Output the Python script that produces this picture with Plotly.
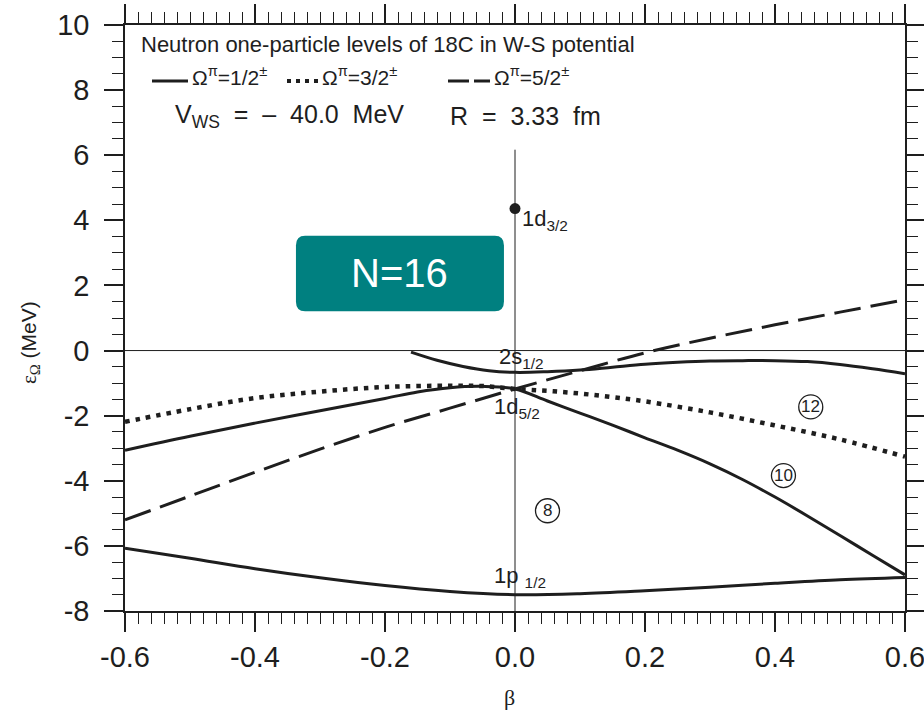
import plotly.graph_objects as go

# ---------------- data ----------------
beta_1p = [-0.6, -0.5, -0.4, -0.3, -0.2, -0.1, 0.0, 0.1, 0.2, 0.3, 0.4, 0.5, 0.6]
e_1p = [-6.07, -6.38, -6.70, -6.98, -7.22, -7.40, -7.50, -7.47, -7.38, -7.27, -7.15, -7.04, -6.97]

beta_d52_half = [-0.6, -0.5, -0.4, -0.3, -0.2, -0.15, -0.1, -0.05, 0.0,
                 0.05, 0.1, 0.15, 0.2, 0.25, 0.3, 0.35, 0.4, 0.45, 0.5, 0.55, 0.6]
e_d52_half = [-3.06, -2.63, -2.23, -1.85, -1.47, -1.27, -1.14, -1.10, -1.18,
              -1.55, -1.92, -2.29, -2.68, -3.06, -3.48, -3.96, -4.50, -5.08, -5.68, -6.29, -6.89]

beta_2s = [-0.16, -0.12, -0.08, -0.04, 0.0, 0.05, 0.1, 0.15, 0.2, 0.25,
           0.3, 0.35, 0.4, 0.45, 0.5, 0.55, 0.6]
e_2s = [-0.05, -0.30, -0.49, -0.62, -0.67, -0.65, -0.60, -0.51, -0.42, -0.36,
        -0.32, -0.31, -0.31, -0.34, -0.43, -0.56, -0.71]

beta_32 = [-0.6, -0.5, -0.4, -0.3, -0.2, -0.1, -0.05, 0.0, 0.05, 0.1, 0.15,
           0.2, 0.3, 0.4, 0.5, 0.6]
e_32 = [-2.19, -1.80, -1.46, -1.26, -1.12, -1.08, -1.09, -1.18, -1.24, -1.32,
        -1.43, -1.56, -1.90, -2.30, -2.73, -3.26]

beta_52 = [-0.6, -0.5, -0.4, -0.3, -0.2, -0.1, 0.0, 0.1, 0.2, 0.3, 0.4, 0.5, 0.6]
e_52 = [-5.20, -4.47, -3.74, -3.03, -2.36, -1.77, -1.18, -0.62, -0.07, 0.38, 0.79, 1.18, 1.56]

beta_d32 = [0.0]
e_d32 = [4.36]

x_tick_vals = [-0.6, -0.4, -0.2, 0.0, 0.2, 0.4, 0.6]
x_tick_text = ["-0.6", "-0.4", "-0.2", "0.0", "0.2", "0.4", "0.6"]
y_tick_vals = [-8, -6, -4, -2, 0, 2, 4, 6, 8, 10]
y_tick_text = ["-8", "-6", "-4", "-2", "0", "2", "4", "6", "8", "10"]

# level labels: (beta, energy, text)
level_labels = [
    (0.007, 4.0, "1d<sub>3/2</sub>"),
    (-0.027, -0.22, "2s<sub>1/2</sub>"),
    (-0.035, -1.75, "1d<sub>5/2</sub>"),
    (-0.035, -6.95, "1p <sub>1/2</sub>"),
]
# shell-closure numbers drawn in circles: (beta, energy, text)
magic_labels = [(0.05, -4.92, "8"), (0.413, -3.84, "10"), (0.455, -1.73, "12")]

INK = "#1e1e1e"
FONT = "Liberation Sans, Arial, Helvetica, sans-serif"

fig = go.Figure()

fig.add_trace(go.Scatter(x=beta_1p, y=e_1p, mode="lines", line=dict(color=INK, width=3, shape="spline"),
                         showlegend=False))
fig.add_trace(go.Scatter(x=beta_d52_half, y=e_d52_half, mode="lines",
                         line=dict(color=INK, width=3, shape="spline"), showlegend=False))
fig.add_trace(go.Scatter(x=beta_2s, y=e_2s, mode="lines", line=dict(color=INK, width=3, shape="spline"),
                         showlegend=False))
fig.add_trace(go.Scatter(x=beta_32, y=e_32, mode="lines",
                         line=dict(color=INK, width=4.5, dash="4.5px,6px", shape="spline"), showlegend=False))
fig.add_trace(go.Scatter(x=beta_52, y=e_52, mode="lines",
                         line=dict(color=INK, width=3, dash="27px,10px", shape="spline"), showlegend=False))
fig.add_trace(go.Scatter(x=beta_d32, y=e_d32, mode="markers", marker=dict(color=INK, size=11),
                         showlegend=False))

# reference lines at beta = 0 and energy = 0
fig.add_shape(type="line", xref="x", yref="y", x0=-0.6, x1=0.6, y0=0, y1=0,
              line=dict(color=INK, width=1))
fig.add_shape(type="line", xref="x", yref="y", x0=0, x1=0, y0=-8, y1=6.17,
              line=dict(color=INK, width=1))

# N=16 rounded box (data coordinates)
bx0, bx1, by0, by1 = -0.337, -0.017, 1.21, 3.53
rx, ry = 0.014, 0.3
path = (f"M{bx0+rx},{by0} L{bx1-rx},{by0} Q{bx1},{by0} {bx1},{by0+ry} "
        f"L{bx1},{by1-ry} Q{bx1},{by1} {bx1-rx},{by1} L{bx0+rx},{by1} "
        f"Q{bx0},{by1} {bx0},{by1-ry} L{bx0},{by0+ry} Q{bx0},{by0} {bx0+rx},{by0} Z")
fig.add_shape(type="path", path=path, xref="x", yref="y", fillcolor="#008080",
              line=dict(width=0))
fig.add_annotation(x=(bx0+bx1)/2, y=(by0+by1)/2, xref="x", yref="y", text="N=16",
                   showarrow=False, font=dict(family=FONT, size=40, color="white"))

for bx, ey, t in level_labels:
    fig.add_annotation(x=bx, y=ey, xref="x", yref="y", text=t, showarrow=False,
                       xanchor="left", yanchor="middle", font=dict(family=FONT, size=22, color=INK))
for bx, ey, t in magic_labels:
    fig.add_shape(type="circle", xref="x", yref="y", xsizemode="pixel", ysizemode="pixel",
                  xanchor=bx, yanchor=ey, x0=-12, x1=12, y0=-12, y1=12,
                  line=dict(color=INK, width=1.3))
    fig.add_annotation(x=bx, y=ey, xref="x", yref="y", text=t, showarrow=False,
                       xanchor="center", yanchor="middle",
                       font=dict(family=FONT, size=17, color=INK))

# ---------- in-plot legend / header ----------
def px_x(p):
    return (p - 125) / 780

def px_y(p):
    return (611 - p) / 586

fig.add_annotation(x=px_x(139), y=px_y(44), xref="paper", yref="paper", xanchor="left",
                   yanchor="middle", showarrow=False,
                   text="Neutron one-particle levels of 18C in W-S potential",
                   font=dict(family=FONT, size=22, color=INK))
legend_items = [
    (152, 188, None, 190, "Ω<sup>π</sup>=1/2<sup>±</sup>", 3),
    (287, 318, "4px,5px", 320, "Ω<sup>π</sup>=3/2<sup>±</sup>", 4),
    (448, 490, "21px,5px", 492, "Ω<sup>π</sup>=5/2<sup>±</sup>", 3),
]
for x0, x1, dash, tx, t, w in legend_items:
    fig.add_shape(type="line", xref="paper", yref="paper", x0=px_x(x0), x1=px_x(x1),
                  y0=px_y(81), y1=px_y(81), line=dict(color=INK, width=w, dash=dash))
    fig.add_annotation(x=px_x(tx), y=px_y(76), xref="paper", yref="paper", xanchor="left",
                       yanchor="middle", showarrow=False, text=t,
                       font=dict(family=FONT, size=21, color=INK))
fig.add_annotation(x=px_x(173), y=px_y(116), xref="paper", yref="paper", xanchor="left",
                   yanchor="middle", showarrow=False, text="V<sub>WS</sub>  =  –  40.0  MeV",
                   font=dict(family=FONT, size=25, color=INK))
fig.add_annotation(x=px_x(448), y=px_y(116), xref="paper", yref="paper", xanchor="left",
                   yanchor="middle", showarrow=False, text="R  =  3.33  fm",
                   font=dict(family=FONT, size=25, color=INK))

# axis titles
fig.add_annotation(x=px_x(30), y=px_y(343), xref="paper", yref="paper", textangle=-90,
                   showarrow=False, xanchor="center", yanchor="middle",
                   text="<span style='font-family:Liberation Serif'>ε<sub>Ω</sub></span> (MeV)",
                   font=dict(family=FONT, size=21, color=INK))
fig.add_annotation(x=px_x(509), y=px_y(698), xref="paper", yref="paper",
                   showarrow=False, xanchor="center", yanchor="middle", text="β",
                   font=dict(family="Liberation Serif", size=22, color=INK))

axis_common = dict(showline=True, linecolor=INK, linewidth=1.5, mirror="allticks",
                   ticks="outside", ticklen=19, tickwidth=1.5, tickcolor=INK,
                   showgrid=False, zeroline=False, automargin=False,
                   ticklabeloverflow="allow",
                   tickfont=dict(family=FONT, size=29, color=INK))
fig.update_xaxes(range=[-0.6, 0.6], tickmode="array", tickvals=x_tick_vals, ticktext=x_tick_text,
                 minor=dict(tickmode="linear", tick0=-0.6, dtick=0.02, ticks="outside",
                            ticklen=11, tickwidth=1.2, tickcolor=INK, showgrid=False),
                 ticklabelstandoff=0, **axis_common)
fig.update_yaxes(range=[-8, 10], tickmode="array", tickvals=y_tick_vals, ticktext=y_tick_text,
                 minor=dict(tickmode="linear", tick0=-8, dtick=0.5, ticks="outside",
                            ticklen=11, tickwidth=1.2, tickcolor=INK, showgrid=False),
                 ticklabelstandoff=9, **axis_common)

fig.update_layout(width=924, height=719, margin=dict(l=125, r=19, t=25, b=108),
                  paper_bgcolor="white", plot_bgcolor="white", showlegend=False)

fig.write_html("out.html", config={"displayModeBar": False},
               post_script="document.body.style.margin='0px';")
